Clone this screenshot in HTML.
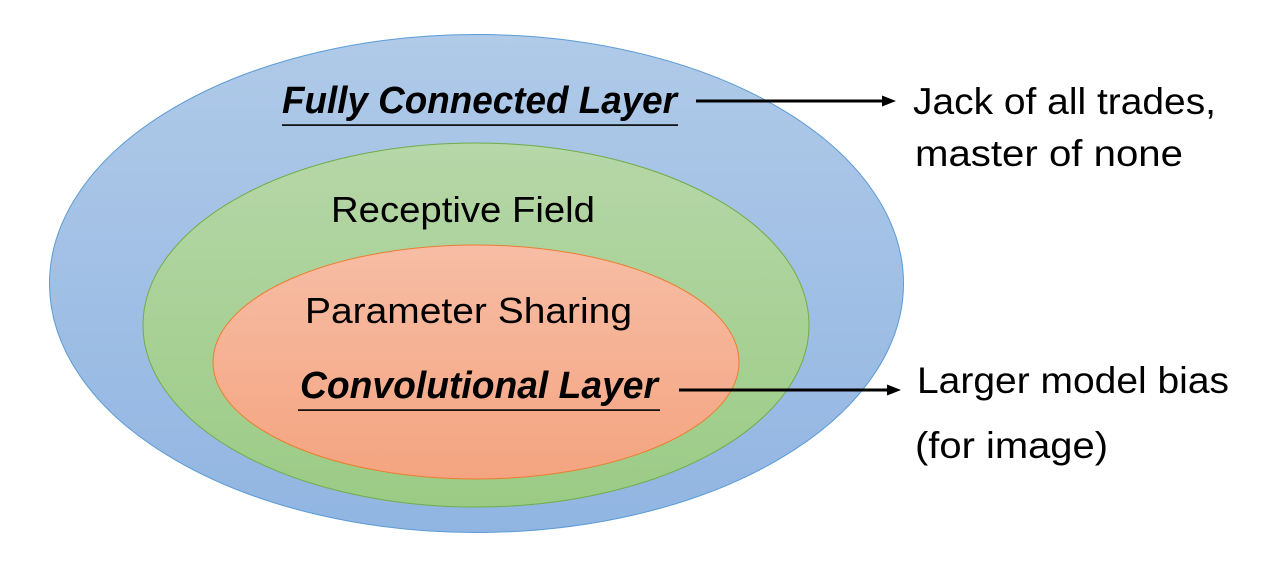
<!DOCTYPE html>
<html>
<head>
<meta charset="utf-8">
<style>
  html, body { margin: 0; padding: 0; background: #ffffff; }
  body { width: 1266px; height: 561px; overflow: hidden; }
  svg { display: block; }
  text { font-family: "Liberation Sans", sans-serif; fill: #000; }
</style>
</head>
<body>
<svg width="1266" height="561" viewBox="0 0 1266 561" xmlns="http://www.w3.org/2000/svg">
  <defs>
    <linearGradient id="gBlue" x1="0" y1="0" x2="0" y2="1">
      <stop offset="0" stop-color="#b0cae8"/>
      <stop offset="1" stop-color="#91b5e2"/>
    </linearGradient>
    <linearGradient id="gGreen" x1="0" y1="0" x2="0" y2="1">
      <stop offset="0" stop-color="#b6d7a8"/>
      <stop offset="1" stop-color="#9bcb85"/>
    </linearGradient>
    <linearGradient id="gOrange" x1="0" y1="0" x2="0" y2="1">
      <stop offset="0" stop-color="#f7bda5"/>
      <stop offset="1" stop-color="#f4a480"/>
    </linearGradient>
  </defs>

  <!-- Ellipses -->
  <ellipse cx="476.5" cy="283.5" rx="427" ry="249" fill="url(#gBlue)" stroke="#5b9bd5" stroke-width="1"/>
  <ellipse cx="476" cy="325" rx="333" ry="182" fill="url(#gGreen)" stroke="#70ad47" stroke-width="1"/>
  <ellipse cx="476" cy="362" rx="263" ry="117" fill="url(#gOrange)" stroke="#ed7d31" stroke-width="1"/>

  <!-- Labels inside -->
  <text x="282" y="113" font-size="38" font-weight="bold" font-style="italic" textLength="395" lengthAdjust="spacingAndGlyphs">Fully Connected Layer</text>
  <rect x="282" y="124.3" width="396" height="1.6" fill="#000"/>

  <text x="331" y="222" font-size="36" textLength="264" lengthAdjust="spacingAndGlyphs">Receptive Field</text>

  <text x="305" y="323" font-size="36" textLength="327" lengthAdjust="spacingAndGlyphs">Parameter Sharing</text>

  <text x="300" y="398" font-size="38" font-weight="bold" font-style="italic" textLength="358" lengthAdjust="spacingAndGlyphs">Convolutional Layer</text>
  <rect x="298" y="409.3" width="362" height="1.6" fill="#000"/>

  <!-- Arrows -->
  <line x1="696" y1="101" x2="884" y2="101" stroke="#000" stroke-width="3"/>
  <polygon points="882,95.5 896,101 882,106.5" fill="#000"/>

  <line x1="679" y1="390" x2="889" y2="390" stroke="#000" stroke-width="3"/>
  <polygon points="887,384.5 901,390 887,395.5" fill="#000"/>

  <!-- Right side text -->
  <text x="913" y="114" font-size="37" textLength="303" lengthAdjust="spacingAndGlyphs">Jack of all trades,</text>
  <text x="915" y="166" font-size="37" textLength="268" lengthAdjust="spacingAndGlyphs">master of none</text>

  <text x="917" y="393" font-size="37" textLength="312" lengthAdjust="spacingAndGlyphs">Larger model bias</text>
  <text x="915" y="458" font-size="37" textLength="193" lengthAdjust="spacingAndGlyphs">(for image)</text>
</svg>
</body>
</html>
